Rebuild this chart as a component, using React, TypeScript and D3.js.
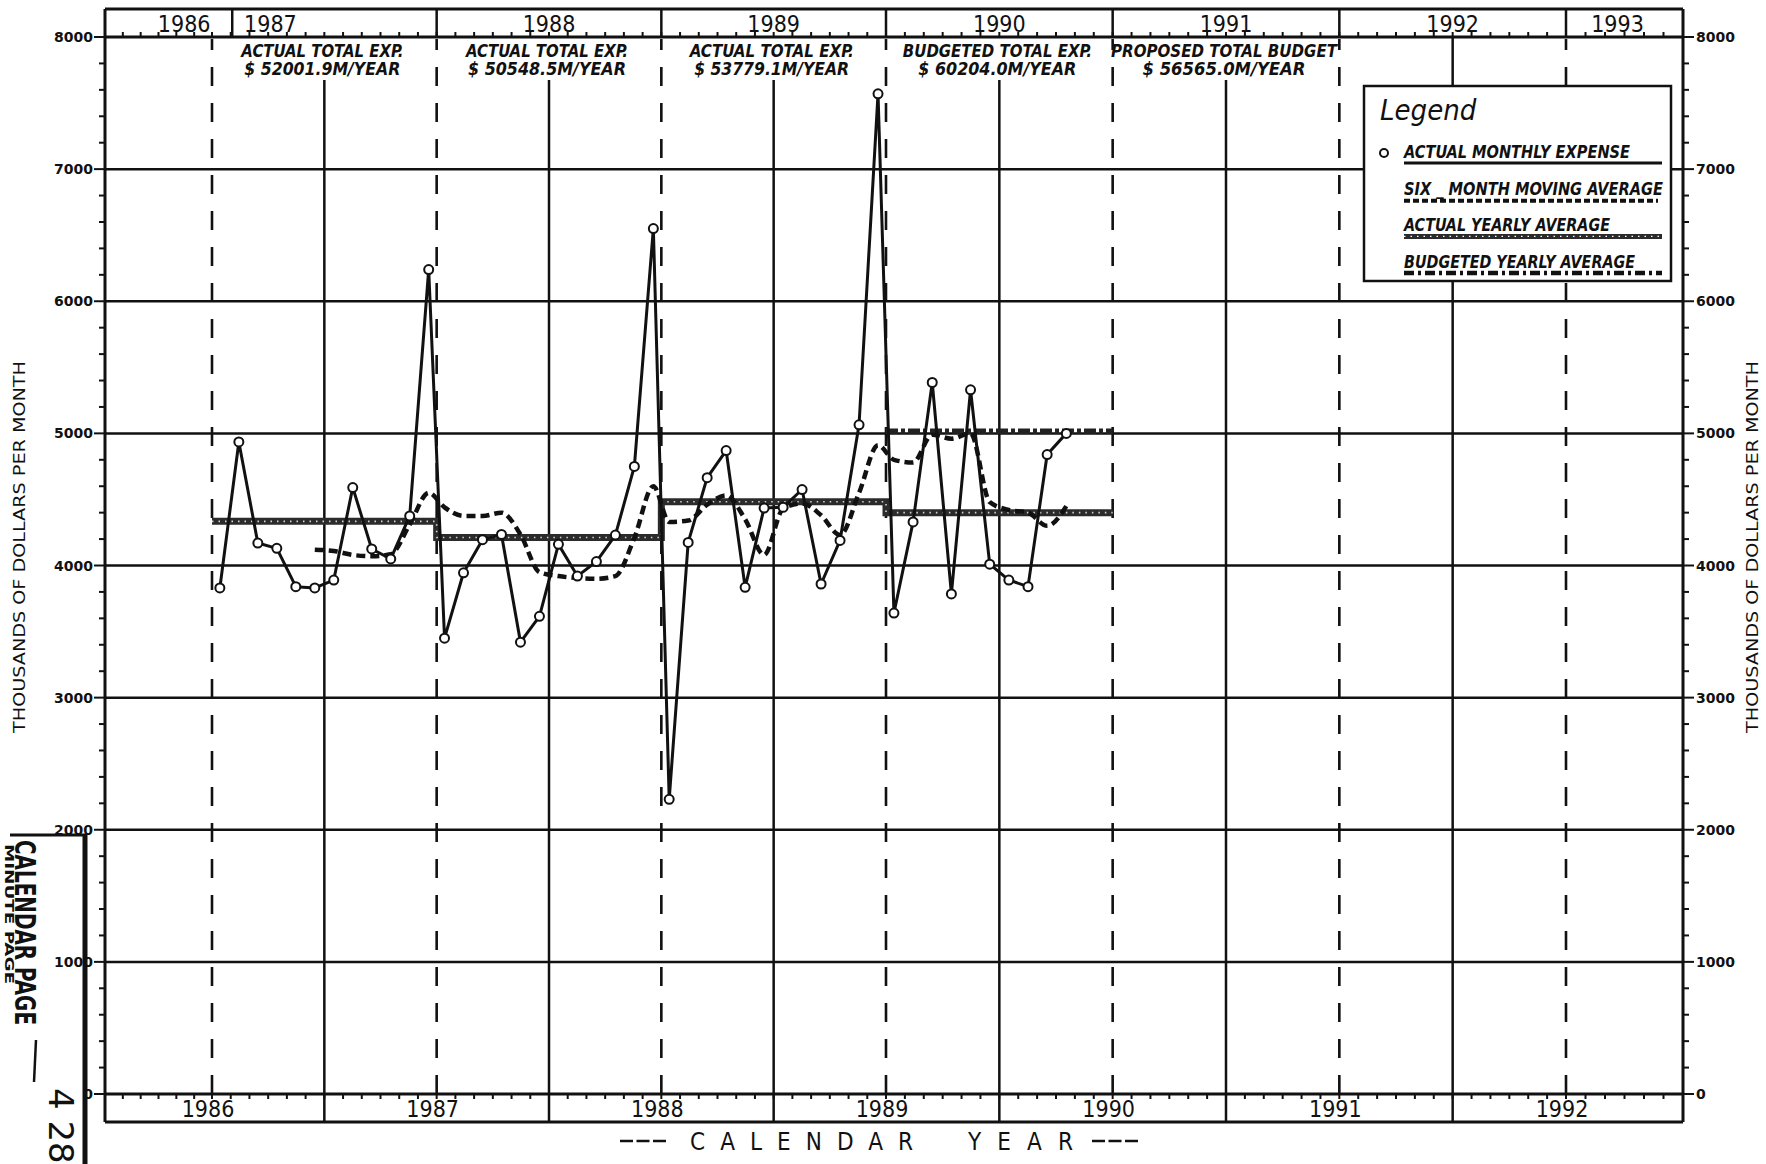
import React from "react";
import * as d3 from "d3";

const W = 1766;
const H = 1164;

// ---- data (thousands of dollars per month) ----
const actualYears = [1986, 1987, 1988, 1989];
const actual1986 = [3830, 4935, 4170, 4130, 3840, 3830, 3890, 4590, 4125, 4050, 4375, 6240];
const actual1987 = [3450, 3945, 4195, 4235, 3420, 3615, 4160, 3920, 4030, 4230, 4750, 6550];
const actual1988 = [2230, 4175, 4665, 4870, 3835, 4435, 4440, 4575, 3860, 4190, 5065, 7570];
const actual1989 = [3640, 4330, 5385, 3785, 5330, 4010, 3890, 3840, 4840, 5000];

// six-month moving average, first value is June 1986
const movingAvgFirstMonth = 6;
const movingAvg1986 = [4120, 4110, 4080, 4070, 4085, 4310, 4550];
const movingAvg1987 = [4440, 4375, 4375, 4400, 4235, 3950, 3920, 3905, 3900, 3920, 4210, 4600];
const movingAvg1988 = [4330, 4340, 4460, 4530, 4350, 4080, 4430, 4470, 4380, 4230, 4550, 4910];
const movingAvg1989 = [4800, 4780, 4990, 4960, 5000, 4480, 4420, 4400, 4300, 4450];

const actualYearlyAvg = [4334, 4212, 4482, 4400];
const budgetYears = [1989];
const budgetYearlyAvg = [5017];

const yTicks = [0, 1000, 2000, 3000, 4000, 5000, 6000, 7000, 8000];
const bottomYearLabels = ["1986", "1987", "1988", "1989", "1990", "1991", "1992"];
const topYearLabels = ["1986", "1987", "1988", "1989", "1990", "1991", "1992", "1993"];
const annotLine1 = ["ACTUAL TOTAL EXP.", "ACTUAL TOTAL EXP.", "ACTUAL TOTAL EXP.", "BUDGETED TOTAL EXP.", "PROPOSED TOTAL BUDGET"];
const annotLine2 = ["$ 52001.9M/YEAR", "$ 50548.5M/YEAR", "$ 53779.1M/YEAR", "$ 60204.0M/YEAR", "$ 56565.0M/YEAR"];
const legendLabels = ["ACTUAL MONTHLY EXPENSE", "SIX _ MONTH MOVING AVERAGE", "ACTUAL YEARLY AVERAGE", "BUDGETED YEARLY AVERAGE"];
const axisTitle = "THOUSANDS OF DOLLARS PER MONTH";
const xTitleWords = ["CALENDAR", "YEAR"];

// ---- layout ----
// calibrated (slightly non-uniform) time axis of the scanned drawing
const x = d3.scaleLinear().domain([1985.5, 1986, 1989, 1992, 1992.5]).range([105, 212, 886, 1566, 1683]);
const y = d3.scaleLinear().domain([0, 8000]).range([1094, 37]);
const TOP = 9;
const BOTTOM = 1122;
const INK = "#111";
const monthPos = (year: number, m: number) => year + 0.035 + (m - 1) * 0.0845;

type P = { t: number; v: number };
const actualSeries: P[] = [actual1986, actual1987, actual1988, actual1989].flatMap((arr, i) =>
  arr.map((v, j) => ({ t: monthPos(actualYears[i], j + 1), v }))
);
const movingSeries: P[] = [movingAvg1986, movingAvg1987, movingAvg1988, movingAvg1989].flatMap((arr, i) =>
  arr.map((v, j) => ({ t: monthPos(actualYears[i], (i === 0 ? movingAvgFirstMonth : 1) + j), v }))
);
const yearlySteps: P[] = [
  ...actualYears.map((yr, i) => ({ t: yr, v: actualYearlyAvg[i] })),
  { t: actualYears[actualYears.length - 1] + 1, v: actualYearlyAvg[actualYearlyAvg.length - 1] },
];
const budgetSteps: P[] = [
  ...budgetYears.map((yr, i) => ({ t: yr, v: budgetYearlyAvg[i] })),
  { t: budgetYears[budgetYears.length - 1] + 1, v: budgetYearlyAvg[budgetYearlyAvg.length - 1] },
];

const lineLin = d3.line<P>().x((d) => x(d.t)).y((d) => y(d.v));
const lineSmooth = d3.line<P>().x((d) => x(d.t)).y((d) => y(d.v)).curve(d3.curveMonotoneX);
const lineStep = d3.line<P>().x((d) => x(d.t)).y((d) => y(d.v)).curve(d3.curveStepAfter);

const lettering = "'DejaVu Sans Condensed', 'DejaVu Sans', sans-serif";
const annotW1 = [162, 162, 164, 189, 226];
const annotW2 = [156, 158, 155, 158, 163];
const legendW = [226, 259, 206, 231];

export default function App() {
  const midYears = d3.range(1986.5, 1992, 1);
  const yearStarts = d3.range(1986, 1993, 1);
  const monthTicks = d3.range(1, 84).map((k) => 1985.5 + k / 12);
  const minorY = d3.range(0, 8001, 200);
  const xl = x(1985.5);
  const xr = x(1992.5);
  const titleY = 547;

  return (
    <svg
      width={W}
      height={H}
      viewBox={`0 0 ${W} ${H}`}
      style={{ position: "absolute", left: 0, top: 0, background: "#fff" }}
    >
      <rect x={0} y={0} width={W} height={H} fill="#fff" />

      {/* horizontal grid */}
      {yTicks.map((v) => (
        <line key={"h" + v} x1={xl} x2={xr} y1={y(v)} y2={y(v)} stroke={INK} strokeWidth={v === 0 || v === 8000 ? 3 : 2.5} />
      ))}
      {/* solid mid-year lines */}
      {midYears.map((t, i) => (
        <line key={"s" + t} x1={x(t)} x2={x(t)} y1={i < annotLine1.length ? 80 : y(8000)} y2={y(0)} stroke={INK} strokeWidth={2.5} />
      ))}
      {/* dashed year-start lines */}
      {yearStarts.map((t) => (
        <line key={"d" + t} x1={x(t)} x2={x(t)} y1={y(8000) + 2} y2={y(0)} stroke={INK} strokeWidth={2.6} strokeDasharray="19 17" strokeDashoffset={8} />
      ))}

      {/* frame */}
      <line x1={xl} x2={xr} y1={TOP} y2={TOP} stroke={INK} strokeWidth={3} />
      <line x1={xl} x2={xr} y1={BOTTOM} y2={BOTTOM} stroke={INK} strokeWidth={3} />
      <line x1={xl} x2={xl} y1={TOP} y2={BOTTOM} stroke={INK} strokeWidth={3} />
      <line x1={xr} x2={xr} y1={TOP} y2={BOTTOM} stroke={INK} strokeWidth={3} />

      {/* month ticks */}
      {monthTicks.map((t) => (
        <g key={"m" + t}>
          <line x1={x(t)} x2={x(t)} y1={y(8000)} y2={y(8000) - 5} stroke={INK} strokeWidth={2} />
          <line x1={x(t)} x2={x(t)} y1={y(0)} y2={y(0) + 5} stroke={INK} strokeWidth={2} />
        </g>
      ))}

      {/* top header dividers and labels */}
      {[1986.09, 1987, 1988, 1989, 1990, 1991, 1992].map((t) => (
        <line key={"td" + t} x1={x(t)} x2={x(t)} y1={TOP} y2={y(8000)} stroke={INK} strokeWidth={2.5} />
      ))}
      {topYearLabels.map((lab, i) => {
        const pos = i === 0 ? x(1985.87) : i === 1 ? x(1986.26) : i === 7 ? x(1992.22) : x(1986.5 + i - 1);
        return (
          <text key={"tl" + lab} x={pos} y={32} textAnchor="middle" fontFamily={lettering} fontSize={23} fill={INK}>
            {lab}
          </text>
        );
      })}

      {/* bottom header dividers and labels */}
      {midYears.map((t) => (
        <line key={"bd" + t} x1={x(t)} x2={x(t)} y1={y(0)} y2={BOTTOM} stroke={INK} strokeWidth={2.5} />
      ))}
      {bottomYearLabels.map((lab, i) => (
        <text key={"bl" + lab} x={x(1986 + i) - 4} y={1117} textAnchor="middle" fontFamily={lettering} fontSize={23} fill={INK}>
          {lab}
        </text>
      ))}
      {/* calendar year title */}
      <line x1={620} x2={666} y1={1141} y2={1141} stroke={INK} strokeWidth={2.5} strokeDasharray="13 3.5" />
      <line x1={1092} x2={1140} y1={1141} y2={1141} stroke={INK} strokeWidth={2.5} strokeDasharray="13 3.5" />
      <text x={690} y={1150} textLength={223} lengthAdjust="spacing" fontFamily={lettering} fontSize={24} fill={INK}>
        {xTitleWords[0]}
      </text>
      <text x={968} y={1150} textLength={105} lengthAdjust="spacing" fontFamily={lettering} fontSize={24} fill={INK}>
        {xTitleWords[1]}
      </text>

      {/* y axes */}
      {minorY.map((v) => {
        const major = v % 1000 === 0;
        return (
          <g key={"yt" + v}>
            <line x1={xl - (major ? 11 : 6)} x2={xl} y1={y(v)} y2={y(v)} stroke={INK} strokeWidth={2} />
            <line x1={xr} x2={xr + (major ? 11 : 6)} y1={y(v)} y2={y(v)} stroke={INK} strokeWidth={2} />
          </g>
        );
      })}
      {yTicks.map((v) => (
        <g key={"yl" + v}>
          <text x={xl - 12} y={y(v) + 5} textAnchor="end" fontFamily="'DejaVu Sans', sans-serif" fontWeight="bold" fontSize={14} fill={INK}>
            {v}
          </text>
          <text x={xr + 13} y={y(v) + 5} textAnchor="start" fontFamily="'DejaVu Sans', sans-serif" fontWeight="bold" fontSize={14} fill={INK}>
            {v}
          </text>
        </g>
      ))}
      <text transform={`translate(25,${titleY}) rotate(-90)`} textAnchor="middle" textLength={372} lengthAdjust="spacingAndGlyphs" fontFamily="'DejaVu Sans', sans-serif" fontSize={16} fill={INK}>
        {axisTitle}
      </text>
      <text transform={`translate(1758,${titleY}) rotate(-90)`} textAnchor="middle" textLength={372} lengthAdjust="spacingAndGlyphs" fontFamily="'DejaVu Sans', sans-serif" fontSize={16} fill={INK}>
        {axisTitle}
      </text>

      {/* annotations */}
      {annotLine1.map((a, i) => (
        <g key={"an" + i}>
          <text x={x(1986.5 + i) - 2} y={57} textAnchor="middle" textLength={annotW1[i]} lengthAdjust="spacingAndGlyphs" fontFamily={lettering} fontStyle="italic" fontWeight="bold" fontSize={18} fill={INK}>
            {a}
          </text>
          <text x={x(1986.5 + i) - 2} y={75} textAnchor="middle" textLength={annotW2[i]} lengthAdjust="spacingAndGlyphs" fontFamily={lettering} fontStyle="italic" fontWeight="bold" fontSize={18} fill={INK}>
            {annotLine2[i]}
          </text>
        </g>
      ))}

      {/* actual yearly average (step) */}
      <path d={lineStep(yearlySteps) || ""} fill="none" stroke="#2b2b2b" strokeWidth={7} />
      <path d={lineStep(yearlySteps) || ""} fill="none" stroke="#fff" strokeWidth={1.6} strokeDasharray="1.5 5" opacity={0.8} />
      {/* budgeted yearly average */}
      <path d={lineStep(budgetSteps) || ""} fill="none" stroke="#222" strokeWidth={5.5} strokeDasharray="12 3 4 3" />
      {/* six month moving average */}
      <path d={lineSmooth(movingSeries) || ""} fill="none" stroke={INK} strokeWidth={4.5} strokeDasharray="9 5" />
      {/* actual monthly expense */}
      <path d={lineLin(actualSeries) || ""} fill="none" stroke={INK} strokeWidth={3} strokeLinejoin="round" />
      {actualSeries.map((d, i) => (
        <circle key={"c" + i} cx={x(d.t)} cy={y(d.v)} r={4.5} fill="#fff" stroke={INK} strokeWidth={2} />
      ))}

      {/* legend */}
      <rect x={1364} y={86} width={307} height={195} fill="#fff" stroke={INK} strokeWidth={2.5} />
      <text x={1380} y={120} fontFamily={lettering} fontStyle="italic" fontSize={29} fill={INK}>
        Legend
      </text>
      <circle cx={1384} cy={153} r={4} fill="#fff" stroke={INK} strokeWidth={2} />
      {legendLabels.map((lab, i) => {
        const base = 158 + i * 36.7;
        return (
          <g key={"lg" + i}>
            <text x={1404} y={base} textLength={legendW[i]} lengthAdjust="spacingAndGlyphs" fontFamily={lettering} fontStyle="italic" fontWeight="bold" fontSize={17} fill={INK}>
              {lab}
            </text>
            {i === 0 && <line x1={1404} x2={1662} y1={base + 5} y2={base + 5} stroke={INK} strokeWidth={3} />}
            {i === 1 && <line x1={1404} x2={1658} y1={base + 6} y2={base + 6} stroke={INK} strokeWidth={4} strokeDasharray="6 3" />}
            {i === 2 && (
              <g>
                <line x1={1404} x2={1662} y1={base + 5} y2={base + 5} stroke="#2b2b2b" strokeWidth={5} />
                <line x1={1404} x2={1662} y1={base + 5} y2={base + 5} stroke="#fff" strokeWidth={1.2} strokeDasharray="1.5 5" />
              </g>
            )}
            {i === 3 && <line x1={1404} x2={1662} y1={base + 5} y2={base + 5} stroke={INK} strokeWidth={4.5} strokeDasharray="10 4 3 4" />}
          </g>
        );
      })}

      {/* stamp at lower left */}
      <line x1={10} x2={86} y1={835} y2={835} stroke={INK} strokeWidth={3} />
      <line x1={85} x2={85} y1={834} y2={H} stroke={INK} strokeWidth={5} />
      <text transform="translate(15,840) rotate(90)" textLength={185} lengthAdjust="spacingAndGlyphs" fontFamily="'Liberation Sans Narrow', 'DejaVu Sans Condensed', sans-serif" fontWeight="bold" fontSize={28} fill={INK}>
        CALENDAR PAGE
      </text>
      <text transform="translate(5,844) rotate(90)" textLength={140} lengthAdjust="spacingAndGlyphs" fontFamily="'Liberation Sans Narrow', 'DejaVu Sans Condensed', sans-serif" fontWeight="bold" fontSize={12} fill={INK}>
        MINUTE PAGE
      </text>
      <line x1={36} x2={34} y1={1040} y2={1082} stroke={INK} strokeWidth={2.5} />
      <text transform="translate(49,1088) rotate(90)" fontFamily="'DejaVu Sans', sans-serif" fontSize={34} fill={INK}>
        4 28
      </text>
    </svg>
  );
}
